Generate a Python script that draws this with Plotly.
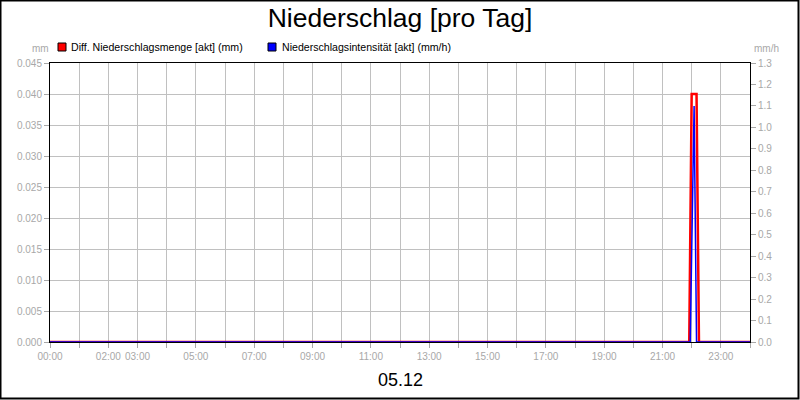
import plotly.graph_objects as go

# Diff. Niederschlagsmenge (mm) - red series
menge_time = ["2023-12-05 00:00", "2023-12-05 21:55", "2023-12-05 22:00",
              "2023-12-05 22:10", "2023-12-05 22:15", "2023-12-06 00:00"]
menge_mm = [0.0, 0.0, 0.04, 0.04, 0.0, 0.0]

# Niederschlagsintensitaet (mm/h) - blue series
intens_time = ["2023-12-05 00:00", "2023-12-05 21:57", "2023-12-05 22:05",
               "2023-12-05 22:10", "2023-12-06 00:00"]
intens_mmh = [0.0, 0.0, 1.1, 0.0, 0.0]

# hourly ticks, only some are labelled
hour_ticks = ["2023-12-05 %02d:00" % h for h in range(24)] + ["2023-12-06 00:00"]
hour_labels = ["00:00", "", "02:00", "03:00", "", "05:00", "", "07:00", "", "09:00",
               "", "11:00", "", "13:00", "", "15:00", "", "17:00", "", "19:00",
               "", "21:00", "", "23:00", ""]

left_ticks = [0.0, 0.005, 0.01, 0.015, 0.02, 0.025, 0.03, 0.035, 0.04, 0.045]
right_ticks = [0.0, 0.1, 0.2, 0.3, 0.4, 0.5, 0.6, 0.7, 0.8, 0.9, 1.0, 1.1, 1.2, 1.3]

grey = "#a8a8a8"
font = "Liberation Sans, Arial, sans-serif"

fig = go.Figure()

fig.add_trace(go.Scatter(
    x=intens_time, y=intens_mmh, yaxis="y2", mode="lines",
    line=dict(color="#0000ff", width=1.5), showlegend=False
))
fig.add_trace(go.Scatter(
    x=menge_time, y=menge_mm, mode="lines",
    line=dict(color="#ff0000", width=2.5), showlegend=False
))

# plot area is 700 x 279 px, margins 50/50/63/58
L, R, T, B = 50, 50, 63, 58
pw, ph = 800 - L - R, 400 - T - B

def px(x):
    return (x - L) / pw

def py(y):
    return (400 - B - y) / ph

shapes = [
    # outer frame
    dict(type="rect", xref="paper", yref="paper", x0=px(0.5), x1=px(798.5),
         y0=py(398.5), y1=py(0.5), line=dict(color="black", width=2)),
    # legend swatches
    dict(type="rect", xref="paper", yref="paper", x0=px(58), x1=px(66),
         y0=py(51), y1=py(43), fillcolor="#ff0000", line=dict(color="black", width=1)),
    dict(type="rect", xref="paper", yref="paper", x0=px(268), x1=px(276),
         y0=py(51), y1=py(43), fillcolor="#0000ff", line=dict(color="black", width=1)),
]

annotations = [
    dict(text="Diff. Niederschlagsmenge [akt] (mm)", x=px(69), y=py(47),
         xanchor="left", yanchor="middle", font=dict(size=10.6, color="black")),
    dict(text="Niederschlagsintensität [akt] (mm/h)", x=px(280), y=py(47),
         xanchor="left", yanchor="middle", font=dict(size=10.6, color="black")),
    dict(text="mm", x=px(40), y=py(48), xanchor="center", yanchor="middle",
         font=dict(size=10, color=grey)),
    dict(text="mm/h", x=px(766), y=py(49), xanchor="center", yanchor="middle",
         font=dict(size=10, color=grey)),
    dict(text="05.12", x=0.5, y=py(380), xanchor="center", yanchor="middle",
         font=dict(size=18, color="black")),
]
for a in annotations:
    a.update(xref="paper", yref="paper", showarrow=False)

fig.update_layout(
    width=800, height=400,
    margin=dict(l=L, r=R, t=T, b=B, autoexpand=False),
    paper_bgcolor="white", plot_bgcolor="white",
    font=dict(family=font, size=10, color=grey),
    title=dict(text="Niederschlag [pro Tag]", x=0.5, xanchor="center",
               y=1 - 18 / 400, yanchor="middle",
               font=dict(size=26.5, color="black", family=font)),
    xaxis=dict(
        type="date", range=["2023-12-05 00:00", "2023-12-06 00:00"],
        tickvals=hour_ticks, ticktext=hour_labels, tickangle=0,
        showgrid=True, gridcolor="#c0c0c0", gridwidth=1,
        ticks="outside", ticklen=5, tickcolor=grey,
        showline=True, linecolor="black", linewidth=1, mirror=True,
        zeroline=False, tickfont=dict(size=10, color=grey), automargin=False,
    ),
    yaxis=dict(
        range=[0, 0.045], tickvals=left_ticks, tickformat=".3f",
        showgrid=True, gridcolor="#c0c0c0", gridwidth=1,
        ticks="outside", ticklen=5, tickcolor=grey,
        showline=True, linecolor="black", linewidth=1,
        zeroline=False, tickfont=dict(size=10, color=grey), automargin=False,
    ),
    yaxis2=dict(
        range=[0, 1.3], tickvals=right_ticks, tickformat=".1f",
        overlaying="y", side="right", showgrid=False,
        ticks="outside", ticklen=5, tickcolor=grey,
        showline=True, linecolor="black", linewidth=1,
        zeroline=False, tickfont=dict(size=10, color=grey), automargin=False,
    ),
    shapes=shapes,
    annotations=annotations,
    showlegend=False,
)

fig.write_html("out.html", config={"displayModeBar": False},
               post_script="document.body.style.margin='0';")
